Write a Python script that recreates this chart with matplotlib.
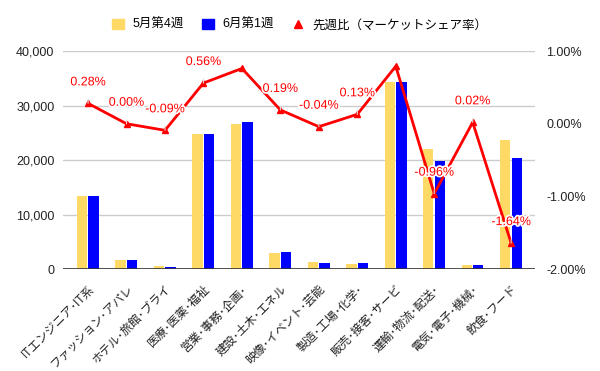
import matplotlib
matplotlib.use("Agg")
from matplotlib import pyplot as plt
from matplotlib.patches import Patch
from matplotlib.lines import Line2D
from matplotlib.ticker import FuncFormatter
import matplotlib.patheffects as pe
import numpy as np

plt.rcParams['font.family'] = ['Liberation Sans', 'Noto Sans CJK JP', 'DejaVu Sans']

categories = ['ITエンジニア･IT系', 'ファッション･アパレ', 'ホテル･旅館･ブライ', '医療･医薬･福祉',
              '営業･事務･企画･', '建設･土木･エネル', '映像･イベント･芸能', '製造･工場･化学･',
              '販売･接客･サービ', '運輸･物流･配送･', '電気･電子･機械･', '飲食･フード']
may_w4 = [13400, 1700, 600, 24700, 26700, 3000, 1300, 1000, 34300, 22000, 700, 23700]
jun_w1 = [13400, 1700, 400, 24800, 27000, 3200, 1150, 1150, 34300, 19800, 750, 20400]
share_diff = [0.28, 0.00, -0.09, 0.56, 0.76, 0.19, -0.04, 0.13, 0.79, -0.96, 0.02, -1.64]
shown_labels = ['0.28%', '0.00%', '-0.09%', '0.56%', None, '0.19%', '-0.04%', '0.13%',
                None, '-0.96%', '0.02%', '-1.64%']

yellow = '#FFD966'
blue = '#0000FF'
red = '#FF0000'

fig = plt.figure(figsize=(6, 3.71), dpi=100)
ax = fig.add_axes([62.7 / 600, 1 - 269.3 / 371, (535 - 62.7) / 600, (269.3 - 51) / 371])
ax2 = ax.twinx()

x = np.arange(len(categories))
ax.bar(x - 0.155, may_w4, width=0.27, color=yellow, zorder=2)
ax.bar(x + 0.145, jun_w1, width=0.27, color=blue, zorder=2)

ax.set_xlim(-0.66, 11.62)
ax.set_ylim(0, 40000)
ax.set_yticks([0, 10000, 20000, 30000, 40000])
ax.yaxis.set_major_formatter(FuncFormatter(lambda v, p: f'{int(v):,}'))
ax.grid(axis='y', color='#CCCCCC', lw=1, zorder=0)
ax.axhline(0, color='#333333', lw=1.2, zorder=3)
for s in ax.spines.values():
    s.set_visible(False)
for s in ax2.spines.values():
    s.set_visible(False)
ax.tick_params(axis='both', length=0, labelsize=9, colors='#222222')
ax.tick_params(axis='y', pad=6)
ax.set_xticks(x)
ax.set_xticklabels(categories, rotation=45, ha='right', rotation_mode='anchor', fontsize=8.5)
ax.tick_params(axis='x', pad=10)

ax2.plot(x, share_diff, color=red, lw=2, marker='^', markersize=4, zorder=4)
ax2.set_ylim(-2, 1)
ax2.set_yticks([-2, -1, 0, 1])
ax2.yaxis.set_major_formatter(FuncFormatter(lambda v, p: f'{v:.2f}%'))
ax2.tick_params(axis='y', length=0, labelsize=9, colors='#222222', pad=8)

for xi, yi, lab in zip(x, share_diff, shown_labels):
    if lab is None:
        continue
    ax2.annotate(lab, (xi, yi), xytext=(0, 21), textcoords='offset pixels',
                 ha='center', va='center', color=red, fontsize=9,
                 path_effects=[pe.withStroke(linewidth=2.5, foreground='white')],
                 arrowprops=dict(arrowstyle='-', color='#DDDDDD', lw=0.8,
                                 shrinkA=6, shrinkB=0), zorder=5)

handles = [Patch(color=yellow), Patch(color=blue),
           Line2D([], [], color=red, marker='^', lw=0, markersize=6)]
fig.legend(handles, ['5月第4週', '6月第1週', '先週比（マーケットシェア率）'],
           loc='center', bbox_to_anchor=(0.5, 1 - 25 / 371), ncol=3, frameon=False,
           fontsize=9, handlelength=0.9, handleheight=0.9, handletextpad=0.7,
           columnspacing=1.5)

fig.savefig('out.png', dpi=100)
